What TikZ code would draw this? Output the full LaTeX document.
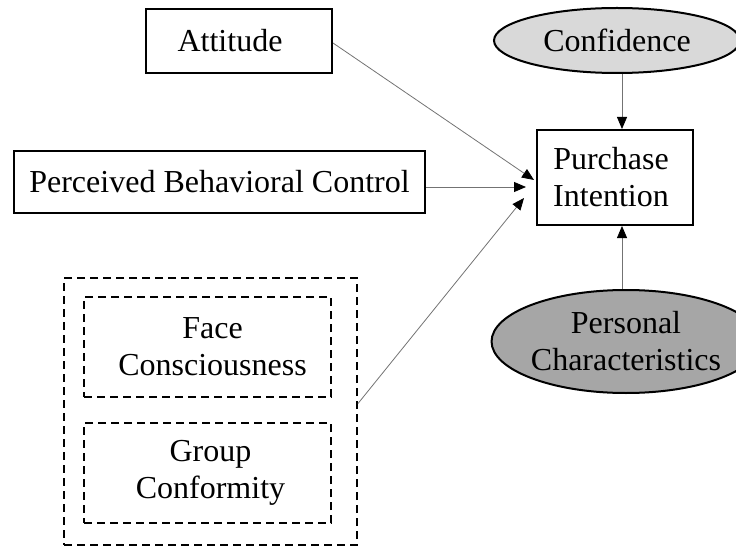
\documentclass[tikz,border=0pt]{standalone}
\usepackage{fontspec}
\setmainfont{Liberation Serif}
\usetikzlibrary{shapes.geometric,arrows.meta,calc}
\begin{document}
\begin{tikzpicture}[x=1pt,y=-1pt,
  every node/.style={font=\fontsize{32}{37}\selectfont, inner sep=0pt, align=center},
  solidbox/.style={draw=black, line width=2pt, rectangle},
  dashbox/.style={draw=black, line width=2pt, rectangle, dash pattern=on 8pt off 5pt},
  lightoval/.style={draw=black, line width=2pt, ellipse, fill=black!15},
  darkoval/.style={draw=black, line width=2pt, ellipse, fill=black!35},
  arr/.style={draw=black!55, line width=0.8pt, -{Triangle[length=12pt,width=10pt,black]}}
]
\clip (0,0) rectangle (736,548);
\useasboundingbox (0,0) rectangle (736,548);

% predictors
\node[solidbox, minimum width=186pt, minimum height=64pt] (att) at (239,41) {};
\node at ($(att)+(-9,0)$) (atttext) {Attitude};
\node[solidbox, minimum width=411pt, minimum height=62pt] (pbc) at (219.5,182) {Perceived Behavioral Control};

% social group of factors
\node[dashbox, minimum width=293pt, minimum height=267pt] (grp) at (210.5,411.5) {};
\node[dashbox, minimum width=247pt, minimum height=100pt] (face) at (207.5,347) {};
\node at ($(face)+(5,0)$) (facetext) {Face\\Consciousness};
\node[dashbox, minimum width=247pt, minimum height=100pt] (conform) at (207.5,473) {};
\node at ($(conform)+(3,0)$) (conformtext) {Group\\Conformity};

% outcome and moderators
\node[solidbox, minimum width=156pt, minimum height=95pt] (pi) at (615,177.5) {};
\node at ($(pi)+(-4,0)$) (pitext) {Purchase\\Intention};
\node[lightoval, minimum width=246pt, minimum height=65pt] (conf) at (617,40.5) {Confidence};
\node[darkoval, minimum width=264pt, minimum height=103pt] (pers) at (626,341.5) {Personal\\Characteristics};

% paths
\draw[arr] ($(att.east)+(0,2)$) -- ($(pi.west)+(-2,2.5)$);
\draw[arr] ($(pbc.east)+(0,5)$) -- ($(pi.west)+(-10,9.5)$);
\draw[arr] ($(grp.east)+(0,-8)$) -- ($(pi.west)+(-12,20.5)$);
\draw[arr] ($(conf.south)+(5,0)$) -- ($(pi.north)+(7,0)$);
\draw[arr] ($(pers.north)+(-4,0)$) -- ($(pi.south)+(7,0)$);
\end{tikzpicture}
\end{document}
